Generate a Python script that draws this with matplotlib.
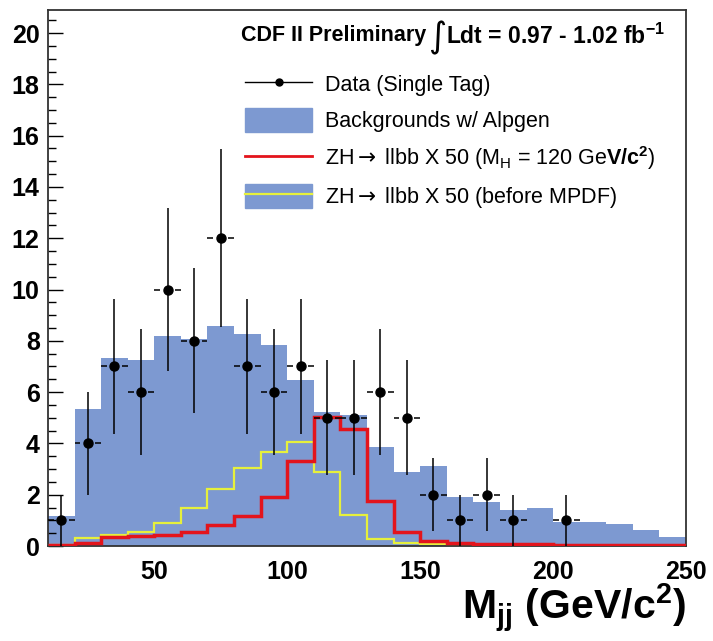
import numpy as np
import matplotlib
matplotlib.use("Agg")
import matplotlib.pyplot as plt
from matplotlib.lines import Line2D
from matplotlib.patches import Patch
from matplotlib.legend_handler import HandlerTuple
from matplotlib.ticker import MultipleLocator, FixedLocator

plt.rcParams["font.family"] = ["Liberation Sans", "DejaVu Sans"]
plt.rcParams["mathtext.fontset"] = "custom"
plt.rcParams["mathtext.rm"] = "Liberation Sans"
plt.rcParams["mathtext.bf"] = "Liberation Sans:bold"
plt.rcParams["mathtext.it"] = "Liberation Sans:italic"
plt.rcParams["mathtext.sf"] = "DejaVu Sans"

# Dijet mass bins (GeV/c^2)
bin_edges = np.arange(10, 251, 10)
bin_centers = bin_edges[:-1] + 5

# Observed events, single-tag sample
data_counts = [1, 4, 7, 6, 10, 8, 12, 7, 6, 7, 5, 5, 6, 5, 2, 1, 2, 1, 0, 1, 0, 0, 0, 0]

# Expected backgrounds (Alpgen)
background = [1.18, 5.34, 7.32, 7.25, 8.2, 8.07, 8.58, 8.25, 7.85, 6.46, 5.24, 5.1,
              3.85, 2.9, 3.13, 1.9, 1.73, 1.4, 1.5, 0.95, 0.95, 0.86, 0.62, 0.34]

# ZH -> llbb signal x50, M_H = 120 GeV/c^2
signal_mpdf = [0.03, 0.13, 0.34, 0.39, 0.43, 0.56, 0.82, 1.17, 1.92, 3.33, 5.02, 4.55,
               1.75, 0.53, 0.21, 0.13, 0.09, 0.07, 0.06, 0.05, 0.05, 0.04, 0.04, 0.04]

# ZH -> llbb signal x50, before MPDF
signal_raw = [0.02, 0.3, 0.43, 0.56, 0.88, 1.47, 2.24, 3.03, 3.65, 4.04, 2.9, 1.21,
              0.26, 0.1, 0.06, 0.04, 0.03, 0.02, 0.01, 0.01, 0.0, 0.0, 0.0, 0.0]

legend_labels = ["Data (Single Tag)",
                 "Backgrounds w/ Alpgen",
                 r"ZH$\mathsf{\rightarrow}$ llbb X 50 (M$_{\rm H}$ = 120 Ge$\mathbf{V/c^{2}}$)",
                 r"ZH$\mathsf{\rightarrow}$ llbb X 50 (before MPDF)"]

BLUE = "#7D99D1"
RED = "#E3141C"
YELLOW = "#E6F03C"

W, H = 713, 641
fig = plt.figure(figsize=(W / 100, H / 100), dpi=100)
ax = fig.add_axes([48 / W, 1 - 546 / H, 638 / W, 536 / H])

ax.stairs(background, bin_edges, fill=True, color=BLUE, lw=0, zorder=1)
ax.stairs(signal_raw, bin_edges, baseline=None, color=YELLOW, lw=1.6, zorder=2)
ax.stairs(signal_mpdf, bin_edges, baseline=None, color=RED, lw=2.5, zorder=3)

counts = np.array(data_counts, dtype=float)
shown = counts > 0
xc = bin_centers[shown]
yc = counts[shown]
err = np.sqrt(yc)
ax.vlines(xc, yc - err, yc + err, color="black", lw=1.1, zorder=4)
ax.hlines(yc, xc - 5, xc - 2.8, color="black", lw=1.1, zorder=4)
ax.hlines(yc, xc + 2.8, xc + 5, color="black", lw=1.1, zorder=4)
ax.plot(xc, yc, "o", color="black", ms=6.5, zorder=5)

ax.set_xlim(10, 250)
ax.set_ylim(0, 20.9)

ax.xaxis.set_major_locator(FixedLocator([50, 100, 150, 200, 250]))
ax.yaxis.set_major_locator(MultipleLocator(2))
ax.yaxis.set_minor_locator(MultipleLocator(0.5))
ax.tick_params(axis="x", length=0, pad=10, labelsize=18)
ax.tick_params(axis="y", which="major", direction="in", length=11, width=1.0,
               labelsize=18, pad=6)
ax.tick_params(axis="y", which="minor", direction="in", length=6, width=1.0)
for lab in ax.get_xticklabels() + ax.get_yticklabels():
    lab.set_fontweight("bold")
for sp in ax.spines.values():
    sp.set_linewidth(1.3)
    sp.set_color("#333333")

# Header with integrated luminosity
fig.text(241 / W, 1 - 36 / H, "CDF II Preliminary", fontsize=15.5,
         fontweight="bold", va="center", ha="left")
fig.text(428 / W, 1 - 38 / H, "\u222b", family="DejaVu Sans", fontsize=25,
         va="center", ha="left")
fig.text(446 / W, 1 - 36 / H, r"Ldt = 0.97 - 1.02 fb$^{\mathbf{-1}}$", fontsize=16.5,
         fontweight="bold", va="center", ha="left")

handles = [
    Line2D([], [], color="black", lw=1.0, marker="o", ms=5),
    Patch(facecolor=BLUE, edgecolor=BLUE),
    Line2D([], [], color=RED, lw=2.0),
    (Patch(facecolor=BLUE, edgecolor=BLUE), Line2D([], [], color=YELLOW, lw=1.6)),
]
ax.legend(handles, legend_labels, loc="upper left", bbox_to_anchor=(0.309, 0.884),
          frameon=False, fontsize=15.5, handlelength=3.1, handleheight=1.3,
          labelspacing=0.56, handletextpad=0.62, borderpad=0, borderaxespad=0,
          handler_map={tuple: HandlerTuple(ndivide=1, pad=0)})

fig.text(686 / W, 1 - 608 / H, r"M$_{\mathbf{jj}}$ (GeV/c$^{\mathbf{2}}$)",
         fontsize=29.5, fontweight="bold", ha="right", va="center")

fig.savefig("out.png", dpi=100)
